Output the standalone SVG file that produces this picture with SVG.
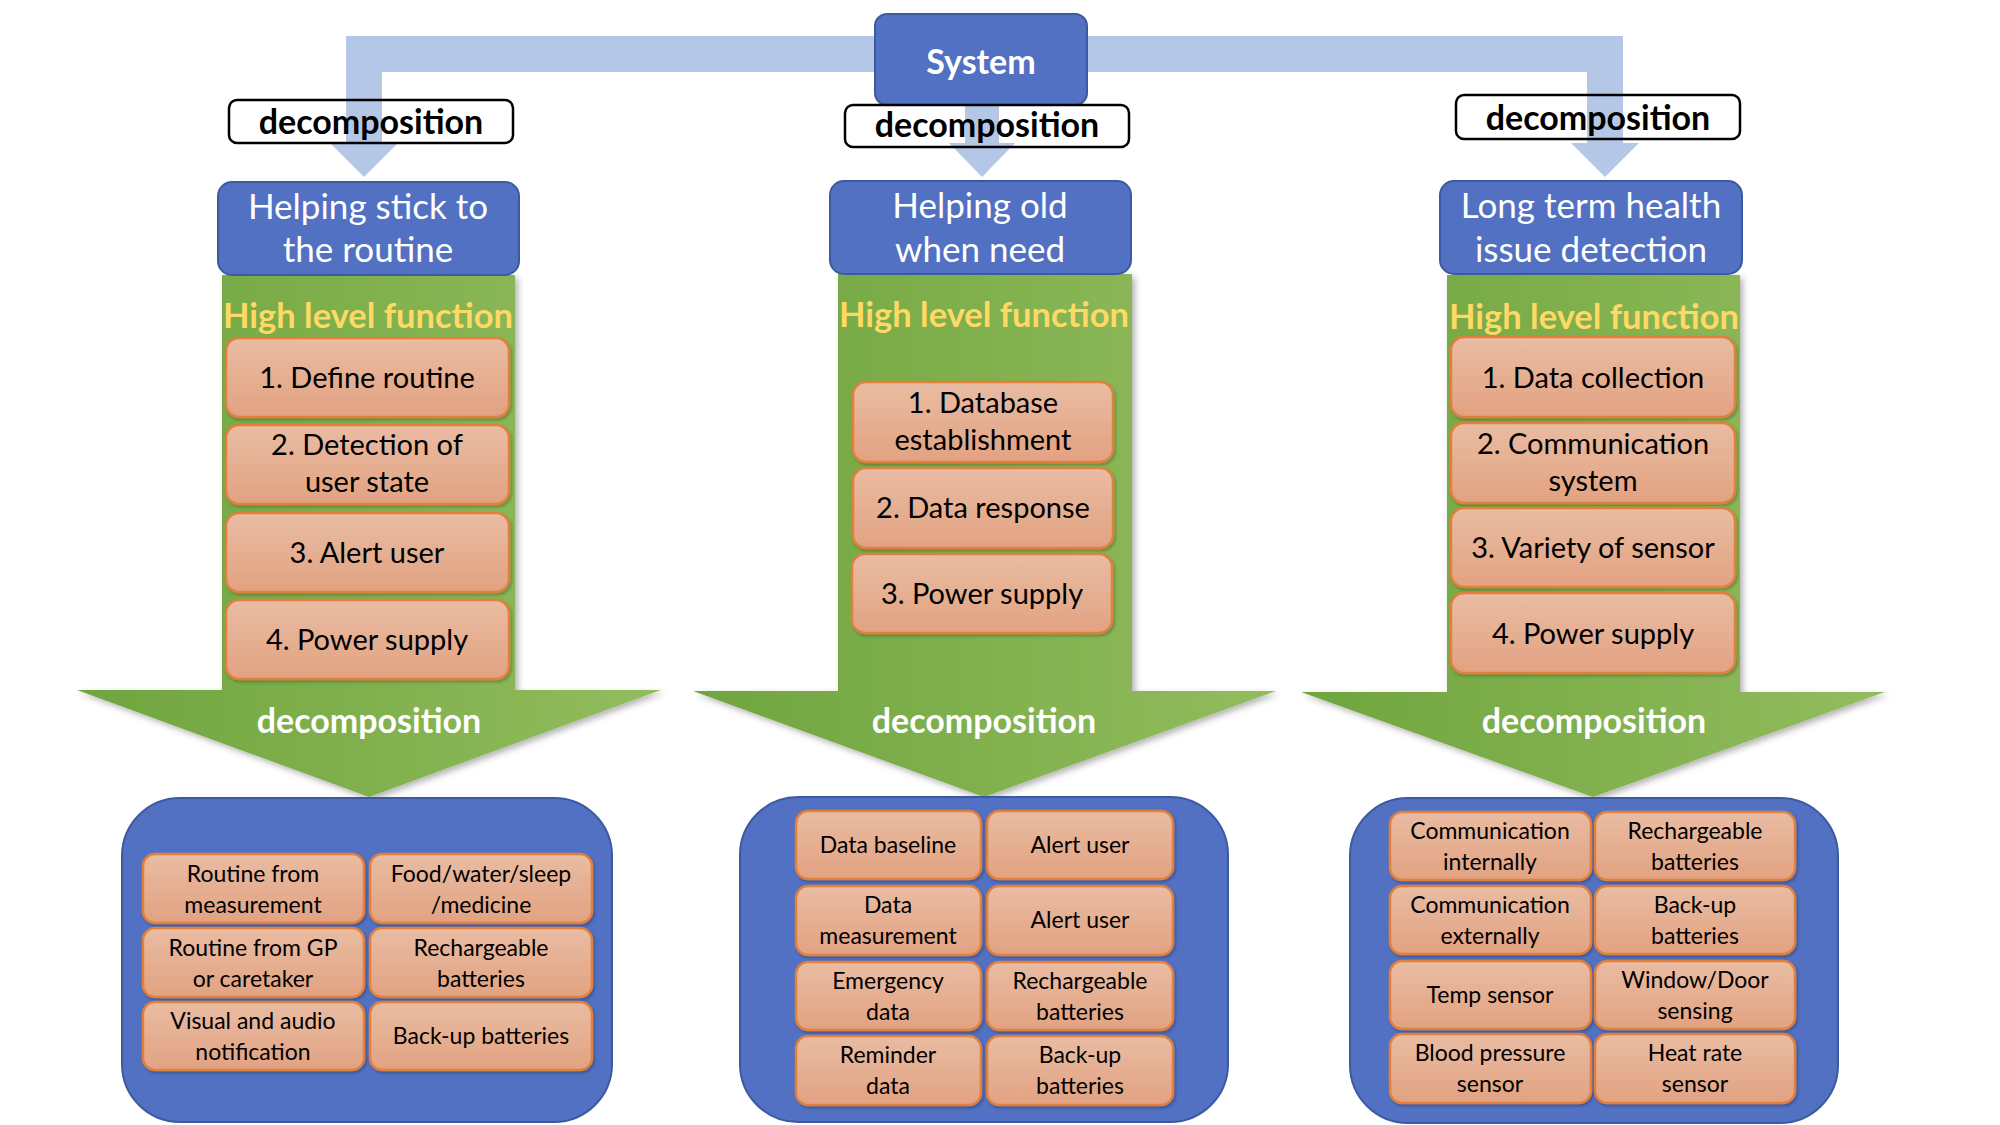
<svg xmlns="http://www.w3.org/2000/svg" width="2000" height="1125" viewBox="0 0 2000 1125">
<defs>
<linearGradient id="gGreen" x1="0" y1="0" x2="1" y2="0">
<stop offset="0" stop-color="#6FA53E"/>
<stop offset="1" stop-color="#93BC5E"/>
</linearGradient>
<linearGradient id="gOrange" x1="0" y1="0" x2="0" y2="1">
<stop offset="0" stop-color="#E9BCA3"/>
<stop offset="1" stop-color="#E2A281"/>
</linearGradient>
<filter id="shadow" x="-10%" y="-10%" width="130%" height="130%">
<feDropShadow dx="3" dy="3" stdDeviation="3" flood-color="#000" flood-opacity="0.3"/>
</filter>
<filter id="shadowS" x="-10%" y="-10%" width="130%" height="130%">
<feDropShadow dx="1.5" dy="2" stdDeviation="1.5" flood-color="#000" flood-opacity="0.25"/>
</filter>
</defs>
<style>
.blue{fill:#5271C2;stroke:#3C5AA0;stroke-width:2}
.lbl{fill:#FFFFFF}
.lblS{fill:none;stroke:#000;stroke-width:2.5}
.conn{fill:#B4C7E7}
.green{fill:url(#gGreen);filter:url(#shadow)}
.item{fill:url(#gOrange);stroke:#E17F3C;stroke-width:2.5;filter:url(#shadowS)}
.t{font-family:Lato,"Open Sans","Liberation Sans",sans-serif;text-anchor:middle}
.sys{font-size:34px;font-weight:bold;fill:#fff}
.dec{font-size:34px;font-weight:bold;fill:#000}
.decw{font-size:34px;font-weight:bold;fill:#fff}
.hdr{font-size:35px;fill:#fff}
.hlf{font-size:34.5px;font-weight:bold;fill:#FFD966}
.fn{font-size:29px;fill:#000}
.sub{font-size:23px;fill:#000}
</style>

<!-- label box backgrounds -->
<g id="label-bg">
<rect class="lbl" x="229" y="100" width="284" height="43" rx="8"/>
<rect class="lbl" x="845" y="105" width="284" height="42" rx="8"/>
<rect class="lbl" x="1456" y="95" width="284" height="44" rx="8"/>
</g>

<g id="connectors">
<polygon class="conn" points="346,36 1623,36 1623,143 1639,143 1605,177 1571,143 1587,143 1587,72 382,72 382,143 398,143 364,177 330,143 346,143"/>
<polygon class="conn" points="965,100 999,100 999,143 1015,143 982,177 949,143 965,143"/>
</g>

<g id="system">
<rect class="blue" x="875" y="14" width="212" height="91" rx="12"/>
<text class="t sys" x="981" y="74">System</text>
</g>

<g id="labels">
<rect class="lblS" x="229" y="100" width="284" height="43" rx="8"/>
<text class="t dec" x="371" y="134">decomposition</text>
<rect class="lblS" x="845" y="105" width="284" height="42" rx="8"/>
<text class="t dec" x="987" y="137">decomposition</text>
<rect class="lblS" x="1456" y="95" width="284" height="44" rx="8"/>
<text class="t dec" x="1598" y="130">decomposition</text>
</g>

<!-- Column 1 -->
<g id="arrow-1">
<polygon class="green" points="222,275 515,275 515,690 661,690 369,797 77,690 222,690"/>
<text class="t hlf" x="368" y="328">High level function</text>
<text class="t decw" x="369" y="733">decomposition</text>
</g>
<g id="header-1">
<rect class="blue" x="218" y="182" width="301" height="93" rx="14"/>
<text class="t hdr" x="368" y="219">Helping stick to</text>
<text class="t hdr" x="368" y="262">the routine</text>
</g>
<g id="fn-1-1"><rect class="item" x="226" y="338" width="283" height="79" rx="13"/><text class="t fn" x="367" y="388">1. Define routine</text></g>
<g id="fn-1-2"><rect class="item" x="226" y="425" width="283" height="79" rx="13"/><text class="t fn" x="367" y="455">2. Detection of</text><text class="t fn" x="367" y="492">user state</text></g>
<g id="fn-1-3"><rect class="item" x="226" y="513" width="283" height="79" rx="13"/><text class="t fn" x="367" y="563">3. Alert user</text></g>
<g id="fn-1-4"><rect class="item" x="226" y="600" width="283" height="79" rx="13"/><text class="t fn" x="367" y="650">4. Power supply</text></g>

<g id="sub-1">
<rect class="blue" x="122" y="798" width="490" height="324" rx="58"/>
<g id="s1a"><rect class="item" x="143" y="854" width="221" height="69" rx="12"/><text class="t sub" x="253" y="882">Routine from</text><text class="t sub" x="253" y="913">measurement</text></g>
<g id="s1b"><rect class="item" x="370" y="854" width="222" height="69" rx="12"/><text class="t sub" x="481" y="882">Food/water/sleep</text><text class="t sub" x="481" y="913">/medicine</text></g>
<g id="s1c"><rect class="item" x="143" y="928" width="221" height="69" rx="12"/><text class="t sub" x="253" y="956">Routine from GP</text><text class="t sub" x="253" y="987">or caretaker</text></g>
<g id="s1d"><rect class="item" x="370" y="928" width="222" height="69" rx="12"/><text class="t sub" x="481" y="956">Rechargeable</text><text class="t sub" x="481" y="987">batteries</text></g>
<g id="s1e"><rect class="item" x="143" y="1002" width="221" height="68" rx="12"/><text class="t sub" x="253" y="1029">Visual and audio</text><text class="t sub" x="253" y="1060">notification</text></g>
<g id="s1f"><rect class="item" x="370" y="1002" width="222" height="68" rx="12"/><text class="t sub" x="481" y="1044">Back-up batteries</text></g>
</g>

<!-- Column 2 -->
<g id="arrow-2">
<polygon class="green" points="838,274 1132,274 1132,691 1276,691 984,797 693,691 838,691"/>
<text class="t hlf" x="984" y="327">High level function</text>
<text class="t decw" x="984" y="733">decomposition</text>
</g>
<g id="header-2">
<rect class="blue" x="830" y="181" width="301" height="93" rx="14"/>
<text class="t hdr" x="980" y="218">Helping old</text>
<text class="t hdr" x="980" y="262">when need</text>
</g>
<g id="fn-2-1"><rect class="item" x="853" y="382" width="260" height="80" rx="13"/><text class="t fn" x="983" y="413">1. Database</text><text class="t fn" x="983" y="450">establishment</text></g>
<g id="fn-2-2"><rect class="item" x="853" y="468" width="260" height="80" rx="13"/><text class="t fn" x="983" y="518">2. Data response</text></g>
<g id="fn-2-3"><rect class="item" x="852" y="554" width="260" height="79" rx="13"/><text class="t fn" x="982" y="604">3. Power supply</text></g>

<g id="sub-2">
<rect class="blue" x="740" y="797" width="488" height="325" rx="58"/>
<g id="s2a"><rect class="item" x="796" y="811" width="185" height="68" rx="12"/><text class="t sub" x="888" y="853">Data baseline</text></g>
<g id="s2b"><rect class="item" x="987" y="811" width="186" height="68" rx="12"/><text class="t sub" x="1080" y="853">Alert user</text></g>
<g id="s2c"><rect class="item" x="796" y="886" width="185" height="69" rx="12"/><text class="t sub" x="888" y="913">Data</text><text class="t sub" x="888" y="944">measurement</text></g>
<g id="s2d"><rect class="item" x="987" y="886" width="186" height="69" rx="12"/><text class="t sub" x="1080" y="928">Alert user</text></g>
<g id="s2e"><rect class="item" x="796" y="962" width="185" height="68" rx="12"/><text class="t sub" x="888" y="989">Emergency</text><text class="t sub" x="888" y="1020">data</text></g>
<g id="s2f"><rect class="item" x="987" y="962" width="186" height="68" rx="12"/><text class="t sub" x="1080" y="989">Rechargeable</text><text class="t sub" x="1080" y="1020">batteries</text></g>
<g id="s2g"><rect class="item" x="796" y="1036" width="185" height="69" rx="12"/><text class="t sub" x="888" y="1063">Reminder</text><text class="t sub" x="888" y="1094">data</text></g>
<g id="s2h"><rect class="item" x="987" y="1036" width="186" height="69" rx="12"/><text class="t sub" x="1080" y="1063">Back-up</text><text class="t sub" x="1080" y="1094">batteries</text></g>
</g>

<!-- Column 3 -->
<g id="arrow-3">
<polygon class="green" points="1447,275 1740,275 1740,692 1885,692 1593,797 1301,692 1447,692"/>
<text class="t hlf" x="1594" y="329">High level function</text>
<text class="t decw" x="1594" y="733">decomposition</text>
</g>
<g id="header-3">
<rect class="blue" x="1440" y="181" width="302" height="93" rx="14"/>
<text class="t hdr" x="1591" y="218">Long term health</text>
<text class="t hdr" x="1591" y="262">issue detection</text>
</g>
<g id="fn-3-1"><rect class="item" x="1451" y="337" width="284" height="80" rx="13"/><text class="t fn" x="1593" y="388">1. Data collection</text></g>
<g id="fn-3-2"><rect class="item" x="1451" y="423" width="284" height="80" rx="13"/><text class="t fn" x="1593" y="454">2. Communication</text><text class="t fn" x="1593" y="491">system</text></g>
<g id="fn-3-3"><rect class="item" x="1451" y="508" width="284" height="79" rx="13"/><text class="t fn" x="1593" y="558">3. Variety of sensor</text></g>
<g id="fn-3-4"><rect class="item" x="1451" y="593" width="284" height="80" rx="13"/><text class="t fn" x="1593" y="644">4. Power supply</text></g>

<g id="sub-3">
<rect class="blue" x="1350" y="798" width="488" height="325" rx="58"/>
<g id="s3a"><rect class="item" x="1390" y="812" width="201" height="68" rx="12"/><text class="t sub" x="1490" y="839">Communication</text><text class="t sub" x="1490" y="870">internally</text></g>
<g id="s3b"><rect class="item" x="1595" y="812" width="200" height="68" rx="12"/><text class="t sub" x="1695" y="839">Rechargeable</text><text class="t sub" x="1695" y="870">batteries</text></g>
<g id="s3c"><rect class="item" x="1390" y="886" width="201" height="68" rx="12"/><text class="t sub" x="1490" y="913">Communication</text><text class="t sub" x="1490" y="944">externally</text></g>
<g id="s3d"><rect class="item" x="1595" y="886" width="200" height="68" rx="12"/><text class="t sub" x="1695" y="913">Back-up</text><text class="t sub" x="1695" y="944">batteries</text></g>
<g id="s3e"><rect class="item" x="1390" y="961" width="201" height="68" rx="12"/><text class="t sub" x="1490" y="1003">Temp sensor</text></g>
<g id="s3f"><rect class="item" x="1595" y="961" width="200" height="68" rx="12"/><text class="t sub" x="1695" y="988">Window/Door</text><text class="t sub" x="1695" y="1019">sensing</text></g>
<g id="s3g"><rect class="item" x="1390" y="1034" width="201" height="69" rx="12"/><text class="t sub" x="1490" y="1061">Blood pressure</text><text class="t sub" x="1490" y="1092">sensor</text></g>
<g id="s3h"><rect class="item" x="1595" y="1034" width="200" height="69" rx="12"/><text class="t sub" x="1695" y="1061">Heat rate</text><text class="t sub" x="1695" y="1092">sensor</text></g>
</g>
</svg>
